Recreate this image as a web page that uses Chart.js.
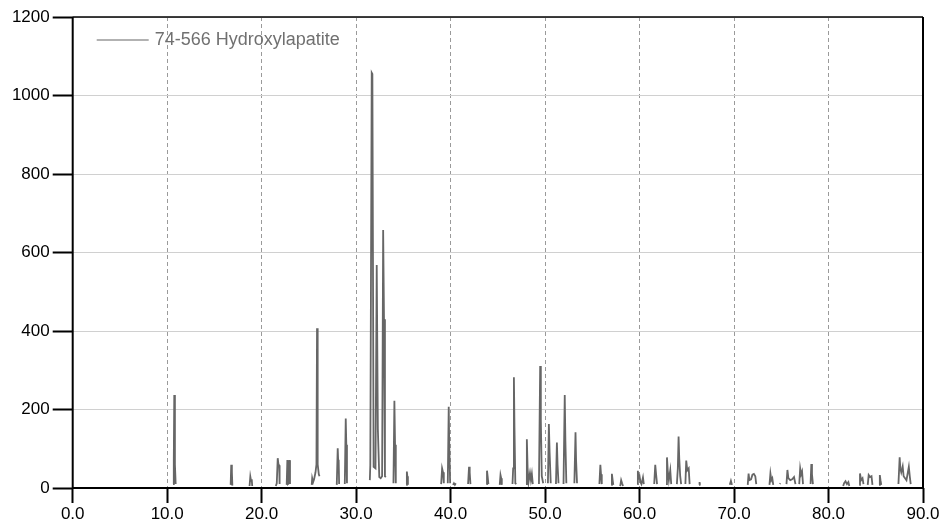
<!DOCTYPE html>
<html>
<head>
<meta charset="utf-8">
<script src="https://cdn.jsdelivr.net/npm/chart.js@4.4.1/dist/chart.umd.min.js"></script>
<style>
  html, body { margin: 0; padding: 0; background: #fff; }
  #wrap { width: 944px; height: 527px; position: relative; }
</style>
</head>
<body>
<div id="wrap"><canvas id="xrd"></canvas></div>
<script>
// 2-theta (deg) and intensity; null intensity = break between peaks
const twoTheta = [
  10.62, 10.70, 10.75, 10.82, 10.90, 10.95,
  16.72, 16.78, 16.85, 16.90, 16.95,
  18.72, 18.80, 18.88, 18.95, 19.00, 19.05,
  21.50, 21.60, 21.70, 21.78, 21.85, 21.90, 21.95,
  22.65, 22.72, 22.78, 22.88, 22.94, 23.00, 23.05,
  25.30, 25.35, 25.45, 25.55, 25.70, 25.80, 25.86, 25.90, 25.96, 26.05, 26.12, 26.20,
  27.95, 28.05, 28.10, 28.15, 28.20, 28.25,
  28.80, 28.90, 28.96, 29.03, 29.10,
  31.45, 31.50, 31.65, 31.72, 31.85, 32.05, 32.18, 32.30, 32.45, 32.60, 32.75, 32.86, 32.95, 33.05, 33.15, 33.20,
  33.95, 34.05, 34.12, 34.20, 34.25,
  35.30, 35.37, 35.42, 35.48, 35.55,
  39.00, 39.10, 39.20, 39.28, 39.35,
  39.70, 39.80, 39.85, 39.95, 40.00,
  40.25, 40.35, 40.45, 40.55, 40.60,
  41.85, 41.95, 42.02, 42.10, 42.15,
  43.78, 43.85, 43.92, 44.00, 44.05,
  45.20, 45.28, 45.35, 45.42, 45.50,
  46.55, 46.62, 46.70, 46.76, 46.85, 46.95, 47.00,
  47.98, 48.07, 48.15, 48.25, 48.40, 48.50, 48.60, 48.70, 48.75,
  49.35, 49.48, 49.55, 49.65, 49.80, 49.85,
  50.30, 50.40, 50.48, 50.60, 50.65,
  51.15, 51.25, 51.32, 51.42, 51.50,
  51.95, 52.08, 52.15, 52.25, 52.30,
  53.10, 53.22, 53.28, 53.38, 53.45,
  55.75, 55.85, 55.92, 56.00, 56.05,
  57.00, 57.07, 57.15, 57.22, 57.30,
  57.95, 58.05, 58.15, 58.25, 58.30,
  59.75, 59.82, 59.90, 60.00, 60.10, 60.20, 60.36, 60.45, 60.50,
  61.55, 61.66, 61.75, 61.85, 61.90,
  62.80, 62.90, 62.98, 63.10, 63.25, 63.35, 63.40,
  63.95, 64.05, 64.13, 64.20, 64.30, 64.40, 64.45,
  64.85, 64.94, 65.05, 65.20, 65.30, 65.35,
  66.30, 66.35, 66.40, 66.45,
  69.55, 69.67, 69.78, 69.85,
  71.45, 71.54, 71.62, 71.80, 71.95, 72.10, 72.25, 72.35, 72.40,
  73.75, 73.85, 73.95, 74.05, 74.15, 74.20,
  74.85, 74.90, 74.95,
  75.55, 75.65, 75.75, 75.95, 76.15, 76.35, 76.50, 76.55,
  76.90, 77.00, 77.10, 77.20, 77.30, 77.35,
  78.10, 78.18, 78.25, 78.35, 78.40,
  81.55, 81.65, 81.80, 81.95, 82.10, 82.20, 82.25,
  83.25, 83.33, 83.45, 83.60, 83.70, 83.75,
  84.15, 84.25, 84.40, 84.55, 84.65, 84.70,
  85.35, 85.43, 85.50, 85.58, 85.65,
  87.40, 87.53, 87.60, 87.70, 87.85, 87.95, 88.10, 88.25, 88.50, 88.60, 88.70, 88.75
];
const intensity = [
  10, 70, 237, 60, 10, null,
  8, 59, 40, 6, null,
  5, 29, 18, 22, 5, null,
  5, 12, 76, 60, 58, 10, null,
  8, 71, 10, 12, 71, 10, null,
  8, 25, 15, 22, 40, 60, 407, 300, 60, 35, 30, null,
  8, 101, 70, 72, 10, null,
  10, 177, 110, 12, null,
  20, 58, 1058, 1055, 54, 50, 568, 150, 28, 25, 30, 657, 430, 30, 28, null,
  12, 222, 110, 12, null,
  8, 42, 30, 8, null,
  10, 50, 40, 12, null,
  12, 207, 118, 12, null,
  8, 12, 8, 12, null,
  10, 54, 40, 10, null,
  10, 44, 30, 10, null,
  8, 33, 25, 8, null,
  10, 50, 282, 155, 12, 10, null,
  10, 124, 50, 15, 38, 20, 36, 10, null,
  10, 311, 173, 30, 12, null,
  12, 163, 90, 12, null,
  10, 116, 60, 12, null,
  10, 237, 120, 12, null,
  12, 142, 71, 12, null,
  10, 59, 35, 10, null,
  8, 36, 20, 8, null,
  5, 20, 12, 5, null,
  10, 44, 25, 30, 15, 10, 27, 10, null,
  10, 59, 35, 10, null,
  10, 78, 45, 20, 45, 10, null,
  10, 50, 131, 76, 30, 10, null,
  10, 70, 45, 50, 10, null,
  8, 15, 8, null,
  8, 18, 8, null,
  8, 37, 20, 22, 34, 36, 30, 10, null,
  8, 37, 20, 25, 8, null,
  10, 12, null,
  10, 46, 25, 20, 22, 28, 10, null,
  10, 50, 35, 42, 10, null,
  10, 61, 35, 10, null,
  5, 12, 17, 10, 15, 5, null,
  8, 37, 20, 25, 10, null,
  8, 33, 28, 30, 8, null,
  8, 33, 20, 8, null,
  10, 78, 50, 40, 55, 30, 25, 20, 54, 30, 10, null
];
const seriesLabel = '74-566 Hydroxylapatite';
const xTicks = [0, 10, 20, 30, 40, 50, 60, 70, 80, 90];
const yTicks = [0, 200, 400, 600, 800, 1000, 1200];

const FONT = '"Liberation Sans", Arial, sans-serif';
const LINE = '#666666';

// frame round the plot area plus the in-plot legend
const framePlugin = {
  id: 'frame',
  afterDatasetsDraw(chart) {
    const { ctx, chartArea: a } = chart;
    ctx.save();
    ctx.strokeStyle = '#000';
    ctx.lineWidth = 2;
    ctx.beginPath();
    ctx.moveTo(a.left, a.top);
    ctx.lineTo(a.left, a.bottom);
    ctx.lineTo(a.right, a.bottom);
    ctx.lineTo(a.right, a.top);
    ctx.stroke();
    ctx.lineWidth = 1.5;
    ctx.beginPath();
    ctx.moveTo(a.left, a.top);
    ctx.lineTo(a.right, a.top);
    ctx.stroke();

    const ds = chart.data.datasets[0];
    ctx.strokeStyle = ds.borderColor;
    ctx.lineWidth = 1.2;
    ctx.beginPath();
    ctx.moveTo(a.left + 24, a.top + 23);
    ctx.lineTo(a.left + 76, a.top + 23);
    ctx.stroke();
    ctx.fillStyle = '#707070';
    ctx.font = '18px ' + FONT;
    ctx.textBaseline = 'middle';
    ctx.fillText(ds.label, a.left + 82, a.top + 23);
    ctx.restore();
  }
};

const points = twoTheta.map((x, i) => ({ x, y: intensity[i] }));

new Chart(document.getElementById('xrd'), {
  type: 'line',
  data: {
    datasets: [{
      label: seriesLabel,
      data: points,
      borderColor: LINE,
      borderWidth: 1.8,
      pointRadius: 0,
      tension: 0,
      spanGaps: false,
      fill: false
    }]
  },
  options: {
    responsive: true,
    maintainAspectRatio: false,
    animation: false,
    layout: { padding: { left: 0, right: 21, top: 17, bottom: 0 } },
    plugins: { legend: { display: false }, tooltip: { enabled: false } },
    scales: {
      x: {
        type: 'linear',
        min: 0, max: 90,
        afterFit: (s) => { s.height = 39; },
        afterBuildTicks: (s) => { s.ticks = xTicks.map(v => ({ value: v })); },
        grid: { color: '#9a9a9a', lineWidth: 1, tickLength: 15, tickColor: '#000', tickWidth: 2 },
        border: { display: false, dash: [4, 3] },
        ticks: { color: '#000', padding: 1, maxRotation: 0, font: { family: FONT, size: 17 },
                 callback: (v) => Number(v).toFixed(1) }
      },
      y: {
        min: 0, max: 1200,
        afterFit: (s) => { s.width = 72.7; },
        afterBuildTicks: (s) => { s.ticks = yTicks.map(v => ({ value: v })); },
        grid: { color: '#d0d0d0', lineWidth: 1, tickLength: 20, tickColor: '#000', tickWidth: 2 },
        border: { display: false },
        ticks: { color: '#000', padding: 3, font: { family: FONT, size: 17 },
                 callback: (v) => String(v) }
      }
    }
  },
  plugins: [framePlugin]
});
</script>
</body>
</html>
